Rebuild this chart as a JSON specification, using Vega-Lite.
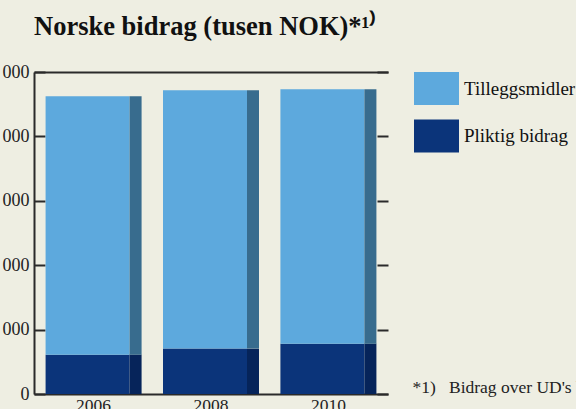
{
  "$schema": "https://vega.github.io/schema/vega-lite/v6.json",
  "width": 354,
  "height": 322,
  "autosize": {"type": "none"},
  "padding": {"left": 34, "top": 72, "right": 188, "bottom": 15},
  "background": "#EEEEE2",
  "title": {
    "text": "Norske bidrag (tusen NOK)*¹⁾",
    "anchor": "start",
    "frame": "group",
    "font": "Liberation Serif",
    "fontSize": 26.5,
    "fontWeight": "bold",
    "color": "#111111",
    "baseline": "alphabetic",
    "offset": 2
  },
  "config": {
    "view": {"stroke": null},
    "axis": {"labelFont": "Liberation Serif", "titleFont": "Liberation Serif", "labelColor": "#222222", "domainColor": "#2a2a2a", "tickColor": "#2a2a2a", "domainWidth": 2, "tickWidth": 2, "grid": false}
  },
  "data": {
    "values": [
      {"year": "2006", "kategori": "Pliktig bidrag", "verdi": 3056},
      {"year": "2006", "kategori": "Tilleggsmidler", "verdi": 20064},
      {"year": "2008", "kategori": "Pliktig bidrag", "verdi": 3523},
      {"year": "2008", "kategori": "Tilleggsmidler", "verdi": 20062},
      {"year": "2010", "kategori": "Pliktig bidrag", "verdi": 3911},
      {"year": "2010", "kategori": "Tilleggsmidler", "verdi": 19752}
    ]
  },
  "resolve": {"axis": {"x": "independent", "y": "independent"}},
  "layer": [
    {
      "mark": {"type": "bar", "width": 84, "xOffset": -6},
      "encoding": {
        "x": {"field": "year", "type": "nominal", "scale": {"paddingInner": 0.185, "paddingOuter": 0.1},
          "axis": {"orient": "bottom", "title": "*1)\u00a0\u00a0\u00a0Bidrag over UD's budsjett", "titleX": 378, "titleY": -2, "titleAlign": "left", "titleBaseline": "alphabetic", "titleFontSize": 17.5, "titleFontWeight": "normal", "titleColor": "#222222", "labelAngle": 0, "labelFontSize": 17.5, "labelPadding": 2, "ticks": false, "labelBaseline": "top"}},
        "y": {"field": "verdi", "type": "quantitative", "stack": "zero", "scale": {"domain": [0, 25000], "nice": false},
          "axis": {"orient": "left", "title": null, "values": [0, 5000, 10000, 15000, 20000, 25000], "tickSize": -11, "labelPadding": 16, "labelFontSize": 18, "labelExpr": "replace(format(datum.value, ','), ',', ' ')"}},
        "color": {"field": "kategori", "type": "nominal",
          "scale": {"domain": ["Tilleggsmidler", "Pliktig bidrag"], "range": ["#5DA9DD", "#0B347A"]},
          "legend": {"title": null, "orient": "none", "legendX": 380, "legendY": -6, "padding": 0, "symbolType": "M-1,-0.733H1V0.733H-1Z", "symbolSize": 2025, "symbolStrokeWidth": 0, "symbolOpacity": 1, "labelFont": "Liberation Serif", "labelFontSize": 19, "labelColor": "#111111", "labelOffset": 5, "rowPadding": 8.5, "labelLimit": 400}},
        "order": {"field": "kategori", "sort": "ascending"}
      }
    },
    {
      "mark": {"type": "bar", "width": 12, "xOffset": 42},
      "encoding": {
        "x": {"field": "year", "type": "nominal",
          "axis": {"orient": "top", "title": null, "labels": false, "ticks": false, "domain": true}},
        "y": {"field": "verdi", "type": "quantitative", "stack": "zero",
          "axis": {"orient": "right", "title": null, "labels": false, "domain": false, "values": [0, 5000, 10000, 15000, 20000, 25000], "tickSize": -11}},
        "detail": {"field": "kategori"},
        "color": {"condition": {"test": "datum.kategori === 'Tilleggsmidler'", "value": "#386C8E"}, "value": "#06245A"},
        "order": {"field": "kategori", "sort": "ascending"}
      }
    }
  ]
}
